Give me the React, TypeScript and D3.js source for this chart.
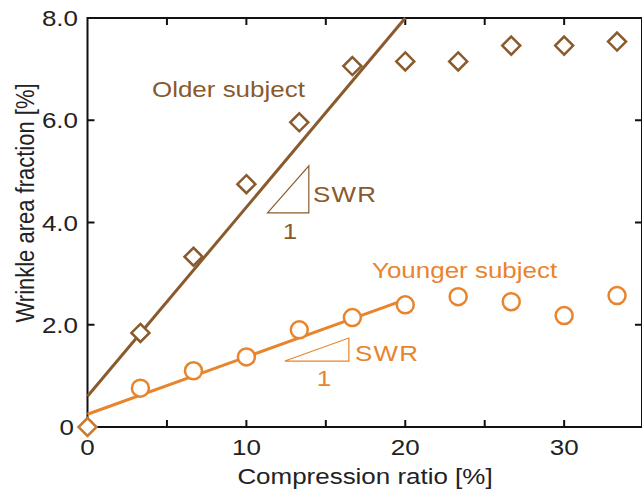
import React, { useEffect, useRef } from 'react';
import * as d3 from 'd3';

// compression ratio [%] for each measurement
const ratios = [0, 3.33, 6.67, 10, 13.33, 16.67, 20, 23.33, 26.67, 30, 33.33];
// wrinkle area fraction [%]
const olderVals = [0, 1.84, 3.33, 4.75, 5.96, 7.06, 7.15, 7.15, 7.46, 7.46, 7.54];
const youngerVals = [0, 0.76, 1.1, 1.37, 1.9, 2.14, 2.39, 2.55, 2.45, 2.18, 2.57];
// linear fits over the first part (intercept, slope, end x)
const olderFit = [0.6, 0.37, 20];
const youngerFit = [0.25, 0.112, 20];
// slope triangles [x0, x1, yBottom, yTop]
const olderTri = [11.33, 13.93, 4.19, 5.11];
const youngerTri = [12.42, 16.45, 1.29, 1.74];
const xTicks = [0, 5, 10, 15, 20, 25, 30];
const xLabels = [0, 10, 20, 30];
const yTicks = [0, 2, 4, 6, 8];
const yLabels = ['0', '2.0', '4.0', '6.0', '8.0'];

const brown = '#8a5a2c';
const orange = '#e8842c';
const font = 'Liberation Sans, Arial, sans-serif';
const stretch = 1.18; // the original type is a bit wider than Liberation

export default function App() {
  const ref = useRef<SVGSVGElement>(null);

  useEffect(() => {
    const svg = d3.select(ref.current);
    svg.selectAll('*').remove();

    const left = 87.5, right = 642, top = 18, bottom = 427;
    const x = d3.scaleLinear().domain([0, 34.9]).range([left, right]);
    const y = d3.scaleLinear().domain([0, 8]).range([bottom, top]);

    var g = svg.append('g');

    const txt = (s: string, px: number, py: number, color: string, anchor = 'start') =>
      g.append('text')
        .attr('transform', `translate(${px},${py}) scale(${stretch},1)`)
        .attr('text-anchor', anchor)
        .attr('font-family', font).attr('font-size', 22).attr('fill', color).text(s);

    // frame
    g.append('rect')
      .attr('x', left).attr('y', top)
      .attr('width', right - left).attr('height', bottom - top)
      .attr('fill', 'none').attr('stroke', '#111').attr('stroke-width', 2);

    // ticks inward
    xTicks.forEach(t => {
      if (t === 0) return;
      g.append('line').attr('x1', x(t)).attr('x2', x(t)).attr('y1', bottom).attr('y2', bottom - 7)
        .attr('stroke', '#111').attr('stroke-width', 2);
      g.append('line').attr('x1', x(t)).attr('x2', x(t)).attr('y1', top).attr('y2', top + 7)
        .attr('stroke', '#111').attr('stroke-width', 2);
    });
    yTicks.forEach(t => {
      if (t === 0 || t === 8) return;
      g.append('line').attr('x1', left).attr('x2', left + 7).attr('y1', y(t)).attr('y2', y(t))
        .attr('stroke', '#111').attr('stroke-width', 2);
      g.append('line').attr('x1', right).attr('x2', right - 7).attr('y1', y(t)).attr('y2', y(t))
        .attr('stroke', '#111').attr('stroke-width', 2);
    });

    xLabels.forEach(t => txt(String(t), x(t), 455, '#222', 'middle'));
    yTicks.forEach((t, i) => txt(yLabels[i], t === 0 ? 74 : 78, y(t) + 8, '#222', 'end'));

    txt('Compression ratio [%]', 365, 484, '#222', 'middle');
    g.append('text').attr('transform', `translate(34,203) rotate(-90) scale(1,${stretch})`)
      .attr('text-anchor', 'middle').attr('font-family', font).attr('font-size', 22)
      .attr('fill', '#222').text('Wrinkle area fraction [%]');

    // fit lines
    const fitLine = (fit: number[], color: string) => {
      const xe = Math.min(fit[2], (8 - fit[0]) / fit[1]);
      g.append('line')
        .attr('x1', x(0)).attr('y1', y(fit[0]))
        .attr('x2', x(xe)).attr('y2', y(fit[0] + fit[1] * xe))
        .attr('stroke', color).attr('stroke-width', 3);
    };
    fitLine(olderFit, brown);
    fitLine(youngerFit, orange);

    // slope triangles
    const tri = (t: number[], color: string) => {
      g.append('path')
        .attr('d', `M${x(t[0])},${y(t[2])}L${x(t[1])},${y(t[2])}L${x(t[1])},${y(t[3])}Z`)
        .attr('fill', 'none').attr('stroke', color).attr('stroke-width', 1.2);
    };
    tri(olderTri, brown);
    tri(youngerTri, orange);

    // younger circles
    g.selectAll('circle.y')
      .data(ratios.slice(1))
      .enter().append('circle')
      .attr('cx', d => x(d))
      .attr('cy', (d, i) => y(youngerVals[i + 1]))
      .attr('r', 8.5)
      .attr('fill', 'white').attr('stroke', orange).attr('stroke-width', 2.5);

    // older diamonds
    const dia = 9;
    g.selectAll('path.o')
      .data(ratios)
      .enter().append('path')
      .attr('d', (d, i) => {
        const cx = x(d), cy = y(olderVals[i]);
        return `M${cx},${cy - dia}L${cx + dia},${cy}L${cx},${cy + dia}L${cx - dia},${cy}Z`;
      })
      .attr('fill', 'white')
      .attr('stroke', (d, i) => i === 0 ? '#c97a30' : brown)
      .attr('stroke-width', 2.5);

    // annotations
    txt('Older subject', 152, 97, brown);
    txt('SWR', 313, 202, brown).attr('letter-spacing', 1);
    txt('1', 290, 239, brown, 'middle');
    txt('Younger subject', 372, 278, orange);
    txt('SWR', 355, 361, orange).attr('letter-spacing', 1);
    txt('1', 324, 386, orange, 'middle');
  }, []);

  return (
    <svg ref={ref} width={642} height={497}
      style={{ position: 'absolute', left: 0, top: 0, background: 'white' }} />
  );
}
